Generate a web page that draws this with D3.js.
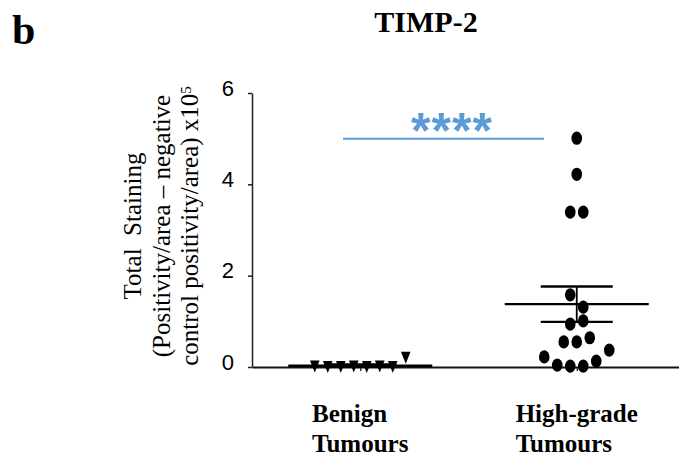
<!DOCTYPE html>
<html>
<head>
<meta charset="utf-8">
<script src="https://cdn.jsdelivr.net/npm/d3@7"></script>
<style>
  body { margin: 0; background: #fff; }
  svg { display: block; }
</style>
</head>
<body>
<div id="graph"></div>
<script>
// values (x10^5)
const groups = ['Benign', 'High-grade'];
const groupLabels = [['Benign', 'Tumours'], ['High-grade', 'Tumours']];
const benignValues = [0.01, 0.0, 0.0, 0.01, 0.0, 0.01, 0.0, 0.2];
const highValues = [0.22, 0.04, 0.02, 0.02, 0.13, 0.37,
                    0.55, 0.55, 0.64,
                    0.94, 1.01,
                    1.58, 1.31,
                    3.39, 3.39,
                    4.22,
                    5.01];
const yTicks = [0, 2, 4, 6];
const yTitle = ['Total\u00a0\u00a0Staining', '(Positivity/area \u2013 negative', 'control positivity/area) x10'];
const signif = '****';

const w = 679;
const h = 457;
const blue = '#5b9bd5';

const svg = d3.select('#graph')
  .append('svg')
  .attr('width', w)
  .attr('height', h);

const xScale = d3.scalePoint().domain(groups).range([252, 685]).padding(0.5);
const yScale = d3.scaleLinear().domain([0, 6]).range([367, 93]);

// axes
svg.append('g')
  .attr('id', 'y-axis')
  .attr('transform', 'translate(252,0)')
  .call(d3.axisLeft(yScale).tickValues(yTicks).tickFormat(d3.format('d')).tickSize(4).tickSizeOuter(0))
  .call(g => {
    g.select('.domain').attr('stroke', '#222').attr('stroke-width', 1.5);
    g.selectAll('.tick line').attr('stroke', '#222').attr('stroke-width', 1.5);
    g.selectAll('.tick text')
      .attr('x', -18)
      .attr('dy', '0.1em')
      .style('font-family', 'Liberation Sans, Arial, sans-serif')
      .style('font-size', '22px')
      .attr('fill', '#000');
  });

svg.append('g')
  .attr('id', 'x-axis')
  .attr('transform', 'translate(0,367)')
  .call(d3.axisBottom(xScale).tickSize(4).tickSizeOuter(0).tickFormat(''))
  .call(g => {
    g.select('.domain').attr('stroke', '#111').attr('stroke-width', 2);
    g.selectAll('.tick line').attr('stroke', '#111').attr('stroke-width', 1.2);
  });

// scatter layout: bin by value, centre each bin around the group
function layout(values, group) {
  const binSize = 0.4, step = 13;
  const bins = d3.group(values.map((v, i) => ({v, i})), d => Math.floor(d.v / binSize));
  const out = [];
  bins.forEach(arr => {
    arr.forEach((d, k) => {
      out.push({v: d.v, x: xScale(group) + (k - (arr.length - 1) / 2) * step});
    });
  });
  return out;
}

const benignPts = layout(benignValues, 'Benign');
const highPts = layout(highValues, 'High-grade');

svg.selectAll('.tri')
  .data(benignPts)
  .enter()
  .append('path')
  .attr('class', 'tri')
  .attr('d', d => {
    const cx = d.x, cy = yScale(d.v);
    return `M${cx - 4.8},${cy - 6}L${cx + 4.8},${cy - 6}L${cx},${cy + 6}Z`;
  })
  .attr('fill', '#000');

svg.selectAll('.dot')
  .data(highPts)
  .enter()
  .append('ellipse')
  .attr('class', 'dot')
  .attr('cx', d => d.x)
  .attr('cy', d => yScale(d.v))
  .attr('rx', 5.3)
  .attr('ry', 6.6)
  .attr('fill', '#000');

// mean +/- SEM
function meanSem(values) {
  const m = d3.mean(values);
  const sem = d3.deviation(values) / Math.sqrt(values.length);
  return {m, sem};
}
[[benignValues, 'Benign'], [highValues, 'High-grade']].forEach(([vals, g]) => {
  const s = meanSem(vals);
  const cx = xScale(g);
  const bars = svg.append('g').attr('stroke', '#000').attr('stroke-width', 2.4);
  bars.append('line')
    .attr('x1', cx - 72).attr('x2', cx + 72)
    .attr('y1', yScale(s.m)).attr('y2', yScale(s.m));
  bars.append('line')
    .attr('x1', cx - 36).attr('x2', cx + 36)
    .attr('y1', yScale(s.m + s.sem)).attr('y2', yScale(s.m + s.sem));
  bars.append('line')
    .attr('x1', cx - 36).attr('x2', cx + 36)
    .attr('y1', yScale(s.m - s.sem)).attr('y2', yScale(s.m - s.sem));
  bars.append('line')
    .attr('stroke-width', 1.8)
    .attr('x1', cx).attr('x2', cx)
    .attr('y1', yScale(s.m + s.sem)).attr('y2', yScale(s.m - s.sem));
});

// significance bar
svg.append('line')
  .attr('x1', 343).attr('x2', 544)
  .attr('y1', yScale(5)).attr('y2', yScale(5))
  .attr('stroke', blue)
  .attr('stroke-width', 2);

svg.append('text')
  .attr('x', 452)
  .attr('y', 148)
  .attr('text-anchor', 'middle')
  .style('font-family', 'Liberation Sans, Arial, sans-serif')
  .style('font-weight', 'bold')
  .style('font-size', '50px')
  .style('letter-spacing', '1px')
  .attr('fill', blue)
  .text(signif);

// group labels, left aligned block centred on widest line
groupLabels.forEach((lines, i) => {
  const t = svg.append('text')
    .style('font-family', 'Liberation Serif, Times New Roman, serif')
    .style('font-weight', 'bold')
    .style('font-size', '25px')
    .attr('fill', '#000');
  const spans = lines.map((l, j) => t.append('tspan').attr('y', 422 + j * 30).text(l));
  const widest = d3.max(spans, s => s.node().getComputedTextLength());
  spans.forEach(s => s.attr('x', xScale(groups[i]) - widest / 2));
});

// y-axis title
yTitle.forEach((l, i) => {
  const t = svg.append('text')
    .attr('transform', `translate(${141 + i * 28.5},226) rotate(-90)`)
    .attr('text-anchor', 'middle')
    .style('font-family', 'Liberation Serif, Times New Roman, serif')
    .style('font-size', '25px')
    .style('white-space', 'pre')
    .attr('fill', '#000')
    .text(l);
  if (i === 2) {
    t.append('tspan').attr('dy', '-0.5em').style('font-size', '15px').text('5');
  }
});

// title and panel letter
svg.append('text')
  .attr('x', 426)
  .attr('y', 32)
  .attr('text-anchor', 'middle')
  .style('font-family', 'Liberation Serif, Times New Roman, serif')
  .style('font-weight', 'bold')
  .style('font-size', '30px')
  .text('TIMP-2');

svg.append('text')
  .attr('x', 12)
  .attr('y', 44)
  .style('font-family', 'Liberation Serif, Times New Roman, serif')
  .style('font-weight', 'bold')
  .style('font-size', '42px')
  .text('b');
</script>
</body>
</html>
